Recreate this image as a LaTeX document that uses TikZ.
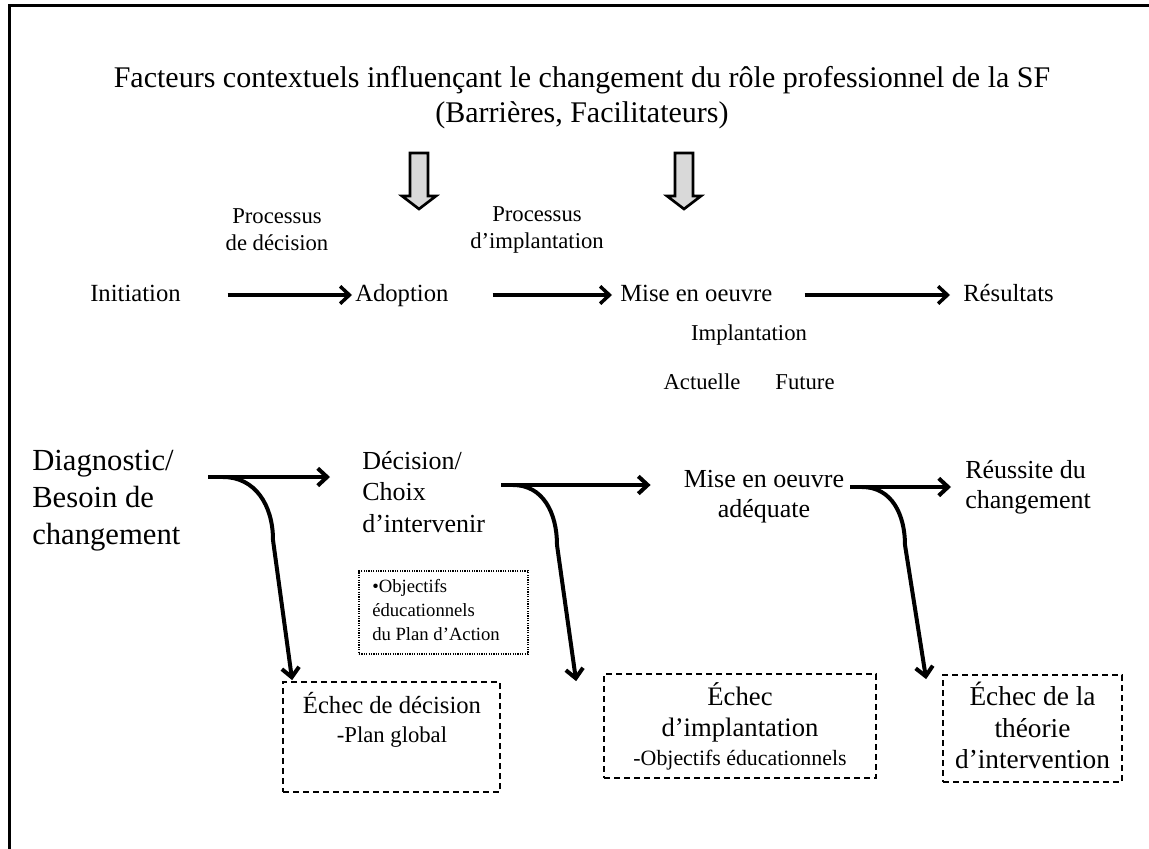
\documentclass[tikz,border=0pt]{standalone}
\usepackage{fontspec}
\setmainfont{Liberation Serif}
\usetikzlibrary{arrows.meta,calc}
\newcommand\setfs[2]{\fontsize{#1}{#2}\selectfont}
\tikzset{
  lbl/.style={inner sep=0pt, align=center},
  lbll/.style={inner sep=0pt, align=left, anchor=west},
  rowlbl/.style={inner sep=0pt, font=\setfs{18.5}{22}, text height=13pt, text depth=4pt, anchor=base west},
  baselbl/.style={inner sep=0pt, anchor=base},
  toparr/.style={line width=2.6pt, -{Straight Barb[length=7pt,width=13pt]}},
  arr/.style={line width=3pt, -{Straight Barb[length=7pt,width=13pt]}},
  blockarr/.style={draw=black, line width=2pt, fill=black!15, line join=miter},
  dbox/.style={draw=black, line width=1.3pt, dash pattern=on 4.5pt off 3pt, inner sep=0pt},
  dotbox/.style={draw=black, line width=0.9pt, dash pattern=on 0.9pt off 0.9pt, inner sep=0pt},
}
\begin{document}
\begin{tikzpicture}[x=0.75pt,y=-0.75pt]
\useasboundingbox (0,0) rectangle (1149,849);
% frame
\draw[line width=2.3pt] (9.5,870) -- (9.5,5.5) -- (1170,5.5);

% heading
\node[lbl, font=\setfs{22.5}{26.25}] (title) at (582,97.5)
  {Facteurs contextuels influençant le changement du rôle professionnel de la SF\\(Barrières, Facilitateurs)};

% influence arrows
\foreach \cx in {419,684}{
  \draw[blockarr] (\cx-9,153) -- (\cx+9,153) -- (\cx+9,196) -- (\cx+17,196)
    -- (\cx,209) -- (\cx-17,196) -- (\cx-9,196) -- cycle;
}

% process labels
\node[lbl, font=\setfs{17}{20}] (pdec) at (277,230) {Processus\\de décision};
\node[lbl, font=\setfs{17}{20}] (pimp) at (537,230) {Processus\\d’implantation};

% stages
\node[rowlbl] (init) at (90,301) {Initiation};
\node[rowlbl] (adop) at (355,301) {Adoption};
\node[rowlbl] (mise) at (620,301) {Mise en oeuvre};
\node[rowlbl] (res) at (963,301) {Résultats};
\draw[toparr, shorten <=35pt, shorten >=2.25pt] (init) -- (adop);
\draw[toparr, shorten <=33pt, shorten >=6pt] (adop) -- (mise);
\draw[toparr, shorten <=24pt, shorten >=9.75pt] (mise) -- (res);

\node[lbl, font=\setfs{17}{20}] (impl) at (749,335) {Implantation};
\node[lbl, font=\setfs{17}{20}] (act) at (702,382) {Actuelle};
\node[lbl, font=\setfs{17}{20}] (fut) at (805,382) {Future};

% outcomes
\node[lbll, font=\setfs{23}{27.75}] (diag) at (32,501) {Diagnostic/\\Besoin de\\changement};
\node[lbll, font=\setfs{19.5}{23.6}] (dec) at (362,492) {Décision/\\Choix\\d’intervenir};
\node[lbl, font=\setfs{19.5}{22.5}] (mise2) at (764,497) {Mise en oeuvre\\adéquate};
\node[lbll, font=\setfs{19.5}{22.5}] (reus) at (965,487) {Réussite du\\changement};

% action plan note
\node[dotbox, minimum width=126.75pt, minimum height=62.25pt] (obj) at (443.5,612.5) {};
\node[lbll, font=\setfs{14}{18}] (objt) at (372,610.5) {\textbullet Objectifs\\éducationnels\\du Plan d’Action};

% failure boxes
\node[dbox, minimum width=162.75pt, minimum height=82.5pt] (ech1) at (391.5,737) {};
\node[baselbl, font=\setfs{18.5}{22}] (ech1a) at (392,713) {Échec de décision};
\node[baselbl, font=\setfs{17}{20}] (ech1b) at (392,742) {-Plan global};

\node[dbox, minimum width=204pt, minimum height=78pt] (ech2) at (740,726) {};
\node[baselbl, font=\setfs{20}{24}] (ech2a) at (740,705) {Échec};
\node[baselbl, font=\setfs{20}{24}] (ech2b) at (740,736) {d’implantation};
\node[baselbl, font=\setfs{16.4}{20}] (ech2c) at (740,765) {-Objectifs éducationnels};

\node[dbox, minimum width=134.25pt, minimum height=80.25pt] (ech3) at (1032.5,728.5) {};
\node[baselbl, font=\setfs{20.5}{24}] (ech3a) at (1032.5,705) {Échec de la};
\node[baselbl, font=\setfs{20.5}{24}] (ech3b) at (1032.5,737) {théorie};
\node[baselbl, font=\setfs{20.5}{24}] (ech3c) at (1032.5,768) {d’intervention};

% forks
\coordinate (f1) at (208,477);
\coordinate (f2) at (501,485);
\coordinate (f3) at (850,487);

\draw[arr, shorten >=24pt] (f1) -- (f1 -| dec.west);
\draw[arr, shorten >=24.75pt] (f2) -- (f2 -| mise2.west);
\draw[arr, shorten >=10.5pt] (f3) -- (f3 -| reus.west);

\draw[arr] ($(f1)+(15,0)$) .. controls ($(f1)+(47,0)$) and ($(f1)+(65,28)$) .. ($(f1)+(65,63)$)
  -- ($(ech1.north west)+(10,-1)$);
\draw[arr] ($(f2)+(12,0)$) .. controls ($(f2)+(42,0)$) and ($(f2)+(56,28)$) .. ($(f2)+(56,60)$)
  -- ($(ech2.north west)+(-27,8)$);
\draw[arr] ($(f3)+(12,0)$) .. controls ($(f3)+(42,0)$) and ($(f3)+(55,28)$) .. ($(f3)+(55,58)$)
  -- ($(ech3.north west)+(-16,5)$);
\end{tikzpicture}
\end{document}
